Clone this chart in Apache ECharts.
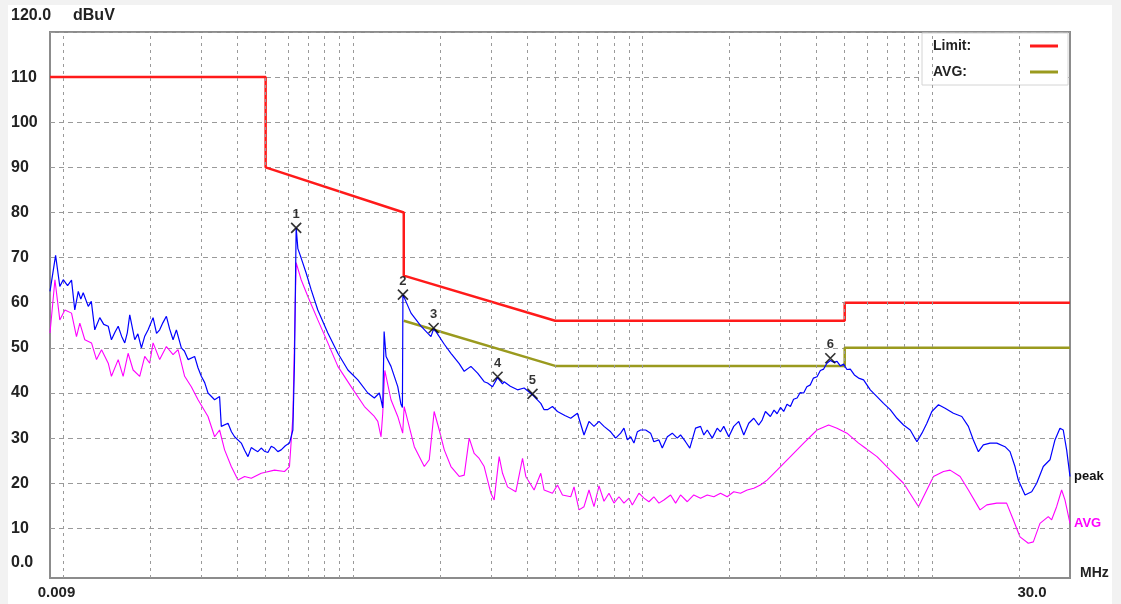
<!DOCTYPE html>
<html>
<head>
<meta charset="utf-8">
<script src="https://cdn.jsdelivr.net/npm/echarts@6/dist/echarts.min.js"></script>
<style>
html,body{margin:0;padding:0;background:#f2f2f2;width:1121px;height:604px;overflow:hidden;}
#chart{position:absolute;left:8px;top:5px;width:1104px;height:599px;background:#fff;}
</style>
</head>
<body>
<div id="chart"></div>
<script>
// ---- axis ranges and tick labels ----
const xRange = [0.009, 30];
const yRange = [-1, 120];
const xEndLabels = ['0.009', '30.0'];
const yTopLabel = '120.0';
const yUnit = 'dBuV';
const xUnit = 'MHz';
const gridFreqs = [0.01,0.02,0.03,0.04,0.05,0.06,0.07,0.08,0.09,
  0.1,0.2,0.3,0.4,0.5,0.6,0.7,0.8,0.9,
  1,2,3,4,5,6,7,8,9,10,20];

// ---- limit lines (MHz, dBuV) ----
const limitPeak = [[0.009,110],[0.05,110],[0.05,90],[0.15,80],[0.15,66],[0.5,56],[5,56],[5,60],[30,60]];
const limitAvg = [[0.15,56],[0.5,46],[5,46],[5,50],[30,50]];

// ---- measured peak trace (MHz, dBuV) ----
const peakTrace = [[0.009,62.5],[0.00941,70.5],[0.00973,63.6],[0.0100,65.1],[0.01035,63.8],[0.01068,65.0],[0.01096,58.4],[0.01127,62.5],[0.01150,60.8],[0.01172,62.2],[0.0122,59.2],[0.0125,60.3],[0.01285,54.0],[0.01337,56.7],[0.0138,55.2],[0.0143,54.8],[0.01467,51.8],[0.0151,53.5],[0.01548,54.8],[0.0159,52.6],[0.01631,51.1],[0.01665,53.4],[0.01697,57.3],[0.01766,51.8],[0.0181,53.1],[0.01862,50.0],[0.0191,52.5],[0.01964,54.0],[0.02043,56.7],[0.0210,53.2],[0.02153,54.0],[0.0221,55.6],[0.02271,57.0],[0.0233,54.2],[0.02395,51.8],[0.02459,54.0],[0.02558,50.0],[0.0262,49.3],[0.02698,47.4],[0.02843,48.1],[0.0292,45.6],[0.02998,43.7],[0.0308,42.3],[0.03162,40.0],[0.03333,38.5],[0.03467,39.2],[0.03515,32.6],[0.03707,33.3],[0.0381,31.4],[0.03906,30.3],[0.0412,28.9],[0.0423,27.3],[0.04345,25.9],[0.0446,27.9],[0.04578,27.4],[0.0470,27.0],[0.04828,27.8],[0.0495,27.1],[0.05092,26.8],[0.0523,28.2],[0.05366,27.8],[0.0551,27.0],[0.05659,27.4],[0.0585,28.3],[0.06044,28.9],[0.0621,31.8],[0.06289,46.7],[0.06374,76.6],[0.06461,72.0],[0.06633,69.9],[0.06901,66.6],[0.0718,62.9],[0.07572,58.4],[0.08201,53.3],[0.08881,48.8],[0.09619,45.1],[0.1041,42.9],[0.1127,40.0],[0.1187,38.9],[0.1235,40.0],[0.1252,38.5],[0.1269,36.7],[0.1283,53.6],[0.1303,48.1],[0.1355,45.9],[0.143,41.4],[0.1467,37.5],[0.1484,36.8],[0.1490,61.8],[0.1589,57.7],[0.172,54.8],[0.1862,52.5],[0.1902,54.2],[0.1938,53.6],[0.2070,50.8],[0.2183,48.8],[0.2331,46.5],[0.2426,44.8],[0.2558,45.9],[0.2698,44.4],[0.2843,42.5],[0.2921,42.2],[0.3039,41.4],[0.3162,43.4],[0.3290,42.0],[0.3332,42.5],[0.3500,41.5],[0.3707,40.7],[0.3906,41.1],[0.4175,39.6],[0.4460,37.7],[0.4578,36.3],[0.4703,36.3],[0.4894,37.0],[0.5092,35.9],[0.5400,35.0],[0.5659,34.4],[0.5969,35.5],[0.6289,30.7],[0.6544,33.7],[0.6809,32.6],[0.7085,33.7],[0.7372,32.6],[0.7774,31.4],[0.809,30.0],[0.8417,31.1],[0.8641,32.2],[0.8881,29.6],[0.9117,30.3],[0.9355,28.9],[0.9611,31.4],[0.9866,31.8],[1.027,31.8],[1.068,31.1],[1.096,29.2],[1.141,29.6],[1.172,27.8],[1.220,30.3],[1.269,31.1],[1.320,30.0],[1.355,30.7],[1.410,29.2],[1.459,27.8],[1.527,32.2],[1.589,32.6],[1.631,30.7],[1.676,31.8],[1.744,30.0],[1.814,32.2],[1.862,31.4],[1.911,32.6],[1.989,30.3],[2.069,32.6],[2.153,33.7],[2.241,30.7],[2.331,33.3],[2.426,34.4],[2.524,32.9],[2.593,34.0],[2.662,35.9],[2.769,34.8],[2.85,36.2],[2.921,35.4],[3.0,36.8],[3.078,35.9],[3.16,37.5],[3.247,37.0],[3.33,38.6],[3.424,38.9],[3.51,40.1],[3.608,40.0],[3.70,41.4],[3.805,41.8],[3.90,43.3],[4.013,43.6],[4.12,45.0],[4.229,45.3],[4.34,46.6],[4.46,47.2],[4.58,46.8],[4.703,47.0],[4.83,46.0],[4.956,46.4],[5.09,45.2],[5.227,45.3],[5.40,44.0],[5.584,43.3],[5.81,42.9],[6.128,40.7],[6.463,39.2],[6.81,37.7],[7.182,36.3],[7.575,34.4],[7.983,32.9],[8.419,31.8],[8.881,29.2],[9.241,31.1],[9.611,33.3],[10.0,35.9],[10.54,37.4],[11.11,36.6],[11.87,35.5],[12.69,34.8],[13.37,32.6],[13.91,29.6],[14.48,27.0],[15.06,28.5],[15.89,28.9],[16.76,28.9],[17.89,28.1],[18.62,27.0],[19.37,23.7],[19.89,20.7],[20.98,17.4],[22.12,18.1],[23.02,20.0],[24.26,23.7],[25.58,25.2],[26.62,29.6],[27.70,32.2],[28.43,31.8],[29.21,27.4],[30.0,21.5]];

// ---- measured average trace (MHz, dBuV) ----
const avgTrace = [[0.009,53.3],[0.00936,65.1],[0.00973,56.2],[0.01013,58.4],[0.01068,57.7],[0.01111,52.5],[0.01141,55.5],[0.01187,51.8],[0.01252,51.1],[0.01303,47.4],[0.01356,49.6],[0.0143,46.6],[0.01467,43.7],[0.01548,47.4],[0.0161,43.7],[0.01675,48.8],[0.01743,45.1],[0.01837,43.7],[0.01912,48.1],[0.01989,46.6],[0.02043,51.1],[0.02153,47.4],[0.02271,50.3],[0.02395,48.5],[0.02492,49.6],[0.02626,43.7],[0.02769,41.4],[0.02921,38.5],[0.03162,34.8],[0.03333,30.3],[0.03467,31.8],[0.03608,27.4],[0.03805,23.7],[0.04013,20.7],[0.04229,21.5],[0.0446,21.1],[0.04828,22.2],[0.05366,22.9],[0.0581,22.6],[0.06044,23.7],[0.0621,34.8],[0.06374,68.9],[0.06633,65.1],[0.06995,61.4],[0.07572,56.2],[0.08201,51.1],[0.08881,45.9],[0.09866,41.4],[0.1097,37.0],[0.1187,34.8],[0.1220,33.7],[0.1252,30.3],[0.1269,35.5],[0.1290,45.0],[0.1355,38.5],[0.143,34.8],[0.1487,31.1],[0.1505,37.0],[0.1631,28.1],[0.1766,23.7],[0.1837,25.2],[0.191,35.9],[0.1989,31.8],[0.207,27.4],[0.2183,23.7],[0.2331,21.5],[0.2426,21.8],[0.2524,30.0],[0.2626,26.6],[0.2732,25.5],[0.2843,23.7],[0.2998,17.8],[0.3078,16.3],[0.3203,25.9],[0.329,22.2],[0.3424,19.2],[0.3656,18.1],[0.3857,25.5],[0.3959,21.5],[0.4229,18.5],[0.446,22.2],[0.4578,18.5],[0.4894,17.8],[0.5092,19.6],[0.5298,17.4],[0.5659,17.0],[0.581,19.2],[0.6044,14.1],[0.6289,14.8],[0.6544,18.5],[0.6809,14.8],[0.7085,19.4],[0.7372,16.0],[0.767,17.8],[0.7981,15.6],[0.8304,17.0],[0.8641,15.6],[0.8995,16.7],[0.9236,15.2],[0.9734,17.8],[1.013,16.7],[1.054,15.9],[1.096,17.0],[1.141,15.6],[1.187,16.3],[1.252,17.4],[1.303,15.6],[1.355,17.4],[1.430,15.9],[1.506,17.4],[1.589,16.7],[1.676,17.4],[1.766,17.0],[1.862,17.8],[1.964,17.0],[2.069,18.1],[2.183,17.8],[2.302,18.5],[2.426,18.9],[2.558,19.6],[2.698,20.7],[2.921,22.9],[3.247,25.9],[3.608,28.9],[4.013,31.8],[4.40,32.9],[4.703,32.2],[5.092,31.1],[5.584,28.9],[5.81,28.1],[6.463,25.9],[7.182,22.9],[7.983,20.0],[8.995,14.8],[9.486,17.8],[10.13,21.5],[10.97,22.6],[11.56,22.9],[12.52,21.5],[13.37,18.5],[14.67,14.1],[15.48,15.2],[16.76,15.6],[18.12,15.6],[19.11,11.9],[20.16,8.1],[21.53,6.7],[22.41,7.0],[23.63,11.1],[25.24,12.6],[25.93,11.9],[26.97,14.8],[28.07,18.5],[28.82,16.3],[30.0,11.1]];

// ---- markers ----
const markerFreq = [0.06374, 0.1490, 0.1902, 0.3162, 0.4175, 4.46];
const markerLevel = [76.6, 61.8, 54.4, 43.6, 39.8, 47.7];
const markerLabels = ['1','2','3','4','5','6'];

const FONT = '"Liberation Sans", Arial, sans-serif';
const near = (a, b) => Math.abs(a - b) / b < 1e-6;
const GRIDC = '#9a9a9a';
const NONE = 'rgba(0,0,0,0)';

const chart = echarts.init(document.getElementById('chart'), null, {renderer: 'canvas'});
chart.setOption({
  animation: false,
  backgroundColor: '#ffffff',
  grid: {
    left: 41, right: 42, top: 27, bottom: 26,
    show: true, borderColor: '#8c8c8c', borderWidth: 2, backgroundColor: '#ffffff'
  },
  legend: {
    data: ['Limit:', 'AVG:'],
    orient: 'vertical', left: 914, top: 28,
    align: 'right', icon: 'rect', itemWidth: 28, itemHeight: 3, itemGap: 12,
    padding: [6, 10, 6, 11],
    backgroundColor: '#ffffff', borderColor: '#d4d4d4', borderWidth: 1,
    selectedMode: false,
    formatter: n => '{a|' + n + '}',
    textStyle: {
      rich: { a: { width: 92, align: 'left', fontSize: 14, fontWeight: 'bold', color: '#222', fontFamily: FONT } }
    }
  },
  xAxis: {
    type: 'log', logBase: 10, min: xRange[0], max: xRange[1],
    name: xUnit, nameLocation: 'end', nameGap: 10,
    nameTextStyle: { fontSize: 14, fontWeight: 'bold', color: '#222', fontFamily: FONT, padding: [26, 0, 0, 0] },
    axisLine: { show: false }, axisTick: { show: false }, splitLine: { show: false },
    axisLabel: {
      margin: 7, showMinLabel: true, showMaxLabel: true,
      formatter: v => near(v, xRange[0]) ? '{a|' + xEndLabels[0] + '}' : (near(v, xRange[1]) ? '{b|' + xEndLabels[1] + '}' : ''),
      rich: {
        a: { fontSize: 15, fontWeight: 'bold', color: '#222', fontFamily: FONT, padding: [0, 0, 0, 13] },
        b: { fontSize: 15, fontWeight: 'bold', color: '#222', fontFamily: FONT, padding: [0, 76, 0, 0] }
      }
    }
  },
  yAxis: {
    type: 'value', min: yRange[0], max: yRange[1],
    splitNumber: 12, minInterval: 10, maxInterval: 10,
    axisLine: { show: false }, axisTick: { show: false },
    splitLine: { show: true, lineStyle: { color: [NONE, NONE, GRIDC, GRIDC, GRIDC, GRIDC, GRIDC, GRIDC, GRIDC, GRIDC, GRIDC, GRIDC, GRIDC, GRIDC], type: [5, 4], width: 1 } },
    axisLabel: {
      align: 'left', margin: 39, showMinLabel: true, showMaxLabel: true,
      formatter: v => {
        if (Math.abs(v - 120) < 1e-6) return '{t|' + yTopLabel + '}{u|' + yUnit + '}';
        if (Math.abs(v) < 1e-6) return '{z|0.0}';
        if (v < 0) return '';
        return '{n|' + Math.round(v) + '}';
      },
      rich: {
        n: { fontSize: 16, fontWeight: 'bold', color: '#222', fontFamily: FONT },
        z: { fontSize: 16, fontWeight: 'bold', color: '#222', fontFamily: FONT, padding: [0, 0, 22, 0] },
        t: { fontSize: 16, fontWeight: 'bold', color: '#222', fontFamily: FONT, padding: [0, 0, 33, 0] },
        u: { fontSize: 16, fontWeight: 'bold', color: '#222', fontFamily: FONT, padding: [0, 0, 33, 22] }
      }
    }
  },
  series: [
    {
      name: 'grid', type: 'line', data: [], z: 1, silent: true,
      markLine: {
        silent: true, symbol: ['none', 'none'], label: { show: false },
        lineStyle: { color: GRIDC, type: [3, 4], width: 1 },
        data: gridFreqs.map(f => ({ xAxis: f }))
      }
    },
    {
      name: 'Limit:', type: 'line', data: limitPeak, color: '#ff1a1a', showSymbol: false, z: 3,
      lineStyle: { color: '#ff1a1a', width: 2.5 }
    },
    {
      name: 'AVG:', type: 'line', data: limitAvg, color: '#9a9a1e', showSymbol: false, z: 3,
      lineStyle: { color: '#9a9a1e', width: 2.5 }
    },
    {
      name: 'AVG', type: 'line', data: avgTrace, color: '#ff00ff', showSymbol: false, z: 4,
      lineStyle: { color: '#ff00ff', width: 1.1 },
      endLabel: { show: true, formatter: 'AVG', color: '#ff00ff', fontSize: 13, fontWeight: 'bold', fontFamily: FONT, distance: 4 }
    },
    {
      name: 'peak', type: 'line', data: peakTrace, color: '#0000ff', showSymbol: false, z: 5,
      lineStyle: { color: '#0000ff', width: 1.2 },
      endLabel: { show: true, formatter: 'peak', color: '#111', fontSize: 13, fontWeight: 'bold', fontFamily: FONT, distance: 4 }
    },
    {
      name: 'markers', type: 'scatter', z: 6,
      data: markerFreq.map((f, i) => ({ value: [f, markerLevel[i]], name: markerLabels[i] })),
      symbol: 'path://M0 0L10 10M10 0L0 10', symbolSize: 10,
      itemStyle: { color: NONE, borderColor: '#000', borderWidth: 1.7 },
      label: { show: true, position: 'top', distance: 1, formatter: p => p.name, color: '#000', fontSize: 13, fontWeight: 'bold', fontFamily: FONT }
    }
  ]
});
</script>
</body>
</html>
